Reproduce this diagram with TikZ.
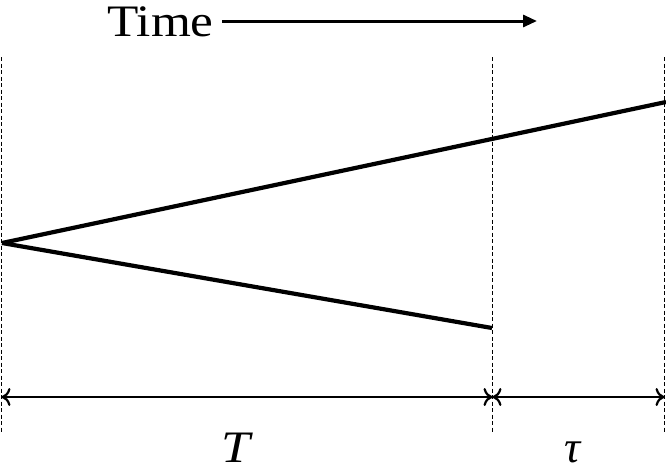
\documentclass[tikz,border=0pt]{standalone}
\usepackage{fontspec}
\usepackage{graphicx}
\setmainfont{Liberation Serif}
\usetikzlibrary{arrows.meta}
\begin{document}
\begin{tikzpicture}[x=1pt,y=-1pt,
  guide/.style={line width=1pt, dash pattern=on 4pt off 2.5pt},
  ray/.style={line width=4.2pt},
  span/.style={line width=2.2pt, {To[length=9pt,width=18pt]}-{To[length=9pt,width=18pt]}},
  lbl/.style={font=\fontsize{45}{45}\selectfont, inner sep=0pt}]
\useasboundingbox (0,0) rectangle (666,472);
% guides
\coordinate (g1t) at (1.5,57); \coordinate (g1b) at (1.5,432);
\coordinate (g2t) at (492.5,57); \coordinate (g2b) at (492.5,432);
\coordinate (g3t) at (664.5,57); \coordinate (g3b) at (664.5,432);
\draw[guide] (g1t) -- (g1b);
\draw[guide] (g2t) -- (g2b);
\draw[guide] (g3t) -- (g3b);
% rays
\coordinate (o) at (2,243);
\coordinate (up) at (666,102);
\coordinate (dn) at (492,328);
\draw[ray] (o) -- (up);
\draw[ray] (o) -- (dn);
% spans
\coordinate (a1) at (1.5,397); \coordinate (a2) at (492.5,397); \coordinate (a3) at (664.5,397);
\draw[span] (a1) -- (a2);
\draw[span] (a2) -- (a3);
% labels
\node[lbl, anchor=base west] (time) at (107,36) {\scalebox{1.14}[1]{Time}};
\coordinate (tend) at (537,21);
\coordinate (tstart) at (222,21);
\draw[line width=3pt, -{Triangle[length=14pt,width=12pt]}] (tstart) -- (tend);
\node[lbl, anchor=base] (T) at (237,462) {\scalebox{1.15}[1]{\textit{T}}};
\node[lbl, anchor=base] (tau) at (573,462) {\textit{τ}};
\end{tikzpicture}
\end{document}
